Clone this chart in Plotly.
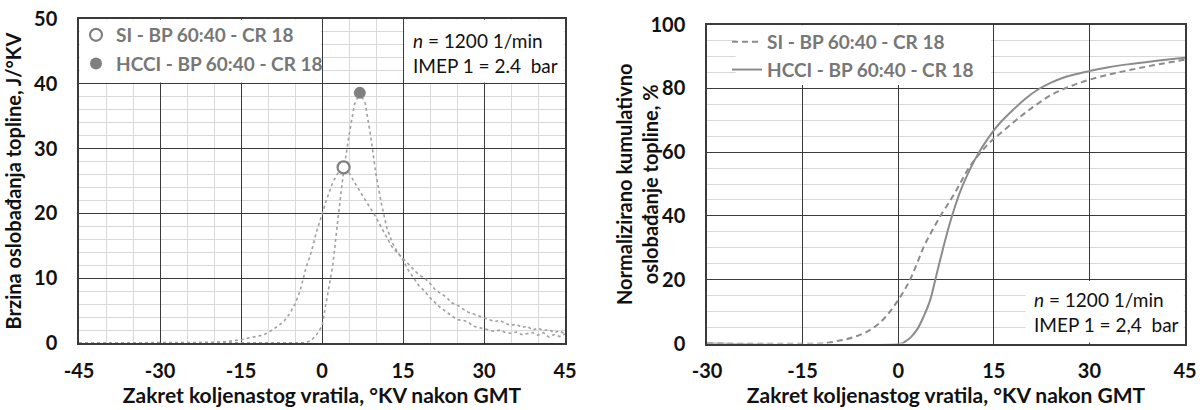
import plotly.graph_objects as go

# ---------------- data: left chart (heat release rate, J/°KV) ----------------
hrr_x = [-45, -30, -25, -20, -18, -16, -15, -14, -13, -12, -11, -10, -9, -8, -7, -6, -5, -4, -3, -2, -1,
         0, 1, 2, 3, 4, 5, 6, 7, 8, 9, 10, 11, 12, 13, 14, 15, 16, 17, 18, 19, 20, 21, 22, 23, 24, 25,
         26, 27, 28, 29, 30, 31, 32, 33, 34, 35, 36, 37, 38, 39, 40, 41, 42, 43, 44, 45]
hrr_si = [0, 0, 0.05, 0.1, 0.2, 0.35, 0.5, 0.7, 0.9, 1.05, 1.2, 1.6, 2.1, 2.7, 3.4, 4.5, 6.0, 8.2, 11.5, 14.0, 17.2,
          20.0, 22.5, 24.8, 26.3, 27.1, 26.3, 24.8, 23.5, 22.2, 20.8, 19.4, 17.8, 16.3, 14.8, 13.9, 13.1, 12.2, 11.3,
          10.5, 10.0, 9.2, 8.2, 7.6, 7.1, 6.2, 5.9, 5.3, 4.8, 4.5, 4.2, 3.8, 3.6, 3.3, 3.5, 3.0, 2.7, 2.9, 2.4, 2.6,
          2.0, 2.3, 1.9, 2.1, 1.6, 1.9, 1.4]
hrr_hcci = [0, 0, 0, 0, 0, 0, 0, 0, 0, 0, 0, 0, 0, 0, 0, 0, 0, 0, 0.05, 0.4, 1.3,
            2.6, 7.0, 12.0, 19.5, 26.5, 32.0, 36.8, 38.6, 37.0, 32.0, 26.0, 21.5, 17.8, 15.5, 14.0, 12.8, 11.2, 10.0,
            8.8, 8.0, 7.0, 6.2, 5.4, 4.8, 4.2, 3.6, 3.5, 3.3, 2.6, 2.4, 2.1, 1.9, 1.8, 2.0, 1.6, 1.5, 1.7, 1.3, 1.5,
            1.6, 1.2, 1.6, 0.9, 1.3, 1.0, 1.4]
peak_si = (4, 27.1)
peak_hcci = (7, 38.6)

# ---------------- data: right chart (normalised cumulative heat release, %) ----------------
cum_si_x = [-30, -12, -11, -10, -9, -8, -7, -6, -5, -4, -3, -2, -1, 0, 1, 2, 3, 4, 5, 6, 7, 8, 9, 10, 11,
            12, 13, 14, 15, 16, 18, 20, 22, 24, 26, 28, 30, 33, 36, 40, 45]
cum_si = [0, 0, 0.2, 0.6, 1.0, 1.4, 2.0, 2.7, 3.6, 4.8, 6.3, 8.3, 10.8, 13.6, 16.8, 20.6, 25.3, 30.3, 34.2,
          37.8, 41.2, 44.3, 47.6, 51.2, 54.8, 57.6, 60.0, 62.3, 64.2, 65.8, 69.2, 72.4, 75.3, 77.9, 79.8, 81.4,
          82.7, 84.3, 85.6, 87.2, 89.0]
cum_hcci_x = [-30, 0.5, 1, 2, 3, 4, 5, 6, 7, 8, 9, 10, 11, 12, 13, 14, 15, 16, 18, 20, 22, 24, 26, 28, 30,
              33, 36, 40, 45]
cum_hcci = [0, 0, 0.5, 2.0, 4.5, 8.5, 13.5, 21.5, 29.5, 37.0, 43.5, 49.0, 53.5, 57.5, 61.0, 64.0, 66.8,
            69.2, 73.2, 76.8, 79.7, 81.8, 83.4, 84.5, 85.4, 86.6, 87.5, 88.5, 89.6]

# ---------------- tick labels and texts ----------------
x1_ticks = [-45, -30, -15, 0, 15, 30, 45]
x1_labels = ["-45", "-30", "-15", "0", "15", "30", "45"]
x2_ticks = [-30, -15, 0, 15, 30, 45]
x2_labels = ["-30", "-15", "0", "15", "30", "45"]
y1_ticks = [0, 10, 20, 30, 40, 50]
y2_ticks = [0, 20, 40, 60, 80, 100]

name_si = "SI - BP 60:40 - CR 18"
name_hcci = "HCCI - BP 60:40 - CR 18"
x_title = "Zakret koljenastog vratila, °KV nakon GMT"
y_title_left = "Brzina oslobađanja topline, J/°KV"
y_title_right = "Normalizirano kumulativno<br>oslobađanje topline, %"
note_left = "<i>n</i> = 1200 1/min<br>IMEP 1 = 2.4  bar"
note_right = "<i>n</i> = 1200 1/min<br>IMEP 1 = 2,4  bar"

# ---------------- styling ----------------
FONT = "Lato"
W, H = 1202, 410
GRAY = "#8c8c8c"
MAJOR = "#3a3a3a"
MINOR = "#d9d9d9"


def px_x(p):
    return p / W


def px_y(p):
    return 1 - p / H


fig = go.Figure()

# left chart curves
fig.add_trace(go.Scatter(x=hrr_x, y=hrr_si, mode="lines", showlegend=False,
                         line=dict(color="#a0a0a0", width=1.6, dash="dot"), xaxis="x", yaxis="y"))
fig.add_trace(go.Scatter(x=hrr_x, y=hrr_hcci, mode="lines", showlegend=False,
                         line=dict(color="#a0a0a0", width=1.6, dash="dot"), xaxis="x", yaxis="y"))
fig.add_trace(go.Scatter(x=[peak_si[0]], y=[peak_si[1]], mode="markers", name=name_si,
                         marker=dict(symbol="circle", size=12, color="white", line=dict(color="#808080", width=2.2)),
                         xaxis="x", yaxis="y", legend="legend", legendgroup="a"))
fig.add_trace(go.Scatter(x=[peak_hcci[0]], y=[peak_hcci[1]], mode="markers", name=name_hcci,
                         marker=dict(symbol="circle", size=12, color="#808080"),
                         xaxis="x", yaxis="y", legend="legend", legendgroup="b"))

# right chart curves
fig.add_trace(go.Scatter(x=cum_si_x, y=cum_si, mode="lines", name=name_si, line_shape="spline",
                         line=dict(color=GRAY, width=2, dash="6px,4px"),
                         xaxis="x2", yaxis="y2", legend="legend2", legendgroup="c"))
fig.add_trace(go.Scatter(x=cum_hcci_x, y=cum_hcci, mode="lines", name=name_hcci, line_shape="spline",
                         line=dict(color=GRAY, width=2),
                         xaxis="x2", yaxis="y2", legend="legend2", legendgroup="d"))

tickfont = dict(family=FONT, size=20, color="#111111", weight="bold")
titlefont = dict(family=FONT, size=20, color="#111111", weight="bold")
xtitlefont = dict(family=FONT, size=21, color="#111111", weight="bold")
legfont = dict(family=FONT, size=19, color="#777777", weight="bold")
notefont = dict(family=FONT, size=19, color="#111111")

common = dict(showline=True, mirror=True, linecolor=MAJOR, linewidth=1.5, automargin=False,
              showgrid=True, gridcolor=MAJOR, gridwidth=1.3, zeroline=False,
              ticks="outside", tickcolor="rgba(0,0,0,0)", tickfont=tickfont, tickmode="array")

fig.update_layout(
    width=W, height=H, margin=dict(l=0, r=0, t=0, b=0, autoexpand=False),
    paper_bgcolor="white", plot_bgcolor="white",
    xaxis=dict(domain=[px_x(79), px_x(565)], range=[-45, 45], tickvals=x1_ticks, ticktext=x1_labels,
               ticklen=9, anchor="y",
               minor=dict(dtick=5, tick0=0, showgrid=True, gridcolor=MINOR, gridwidth=1),
               title=dict(text=x_title, font=xtitlefont, standoff=5), **common),
    yaxis=dict(domain=[px_y(343), px_y(19)], range=[0, 50], tickvals=y1_ticks,
               ticklen=16, anchor="x",
               minor=dict(dtick=2, tick0=0, showgrid=True, gridcolor=MINOR, gridwidth=1),
               title=dict(text=y_title_left, font=titlefont, standoff=7), **common),
    xaxis2=dict(domain=[px_x(707), px_x(1185)], range=[-30, 45], tickvals=x2_ticks, ticktext=x2_labels,
                ticklen=9, anchor="y2",
                title=dict(text=x_title, font=xtitlefont, standoff=5), **common),
    yaxis2=dict(domain=[px_y(343.5), px_y(24.5)], range=[0, 100], tickvals=y2_ticks,
                ticklen=16, anchor="x2",
                minor=dict(dtick=5, tick0=0, showgrid=True, gridcolor=MINOR, gridwidth=1), **common),
    legend=dict(x=px_x(76), y=px_y(16), xanchor="left", yanchor="top", bgcolor="rgba(0,0,0,0)",
                font=legfont, tracegroupgap=1, borderwidth=0),
    legend2=dict(x=px_x(727), y=px_y(23), xanchor="left", yanchor="top", bgcolor="rgba(0,0,0,0)",
                 font=legfont, tracegroupgap=0, borderwidth=0),
    shapes=[
        dict(type="rect", xref="x", yref="y", x0=-44.8, x1=-0.25, y0=40.2, y1=49.9, layer="between",
             fillcolor="white", line=dict(width=0)),
        dict(type="rect", xref="x", yref="y", x0=15.25, x1=44.8, y0=40.2, y1=49.9, layer="between",
             fillcolor="white", line=dict(width=0)),
        dict(type="rect", xref="x2", yref="y2", x0=-25.5, x1=14.6, y0=81, y1=99.8, layer="between",
             fillcolor="white", line=dict(width=0)),
        dict(type="rect", xref="x2", yref="y2", x0=20, x1=44.8, y0=0.3, y1=19.6, layer="between",
             fillcolor="white", line=dict(width=0)),
    ],
    annotations=[
        dict(text=note_left, xref="x", yref="y", x=16.5, y=44.7, xanchor="left", yanchor="middle",
             showarrow=False, align="left", font=notefont),
        dict(text=note_right, xref="x2", yref="y2", x=21.0, y=9.8, xanchor="left", yanchor="middle",
             showarrow=False, align="left", font=notefont),
        dict(text=y_title_right, xref="paper", yref="paper", x=px_x(637), y=px_y(184),
             xanchor="center", yanchor="middle", textangle=-90, showarrow=False, align="center",
             font=titlefont),
    ],
)

# remove the browser's default 8px page margin so the 1202x410 figure fills the window exactly
fig.write_html("out.html", config={"displayModeBar": False},
               post_script="document.body.style.margin='0px';")
